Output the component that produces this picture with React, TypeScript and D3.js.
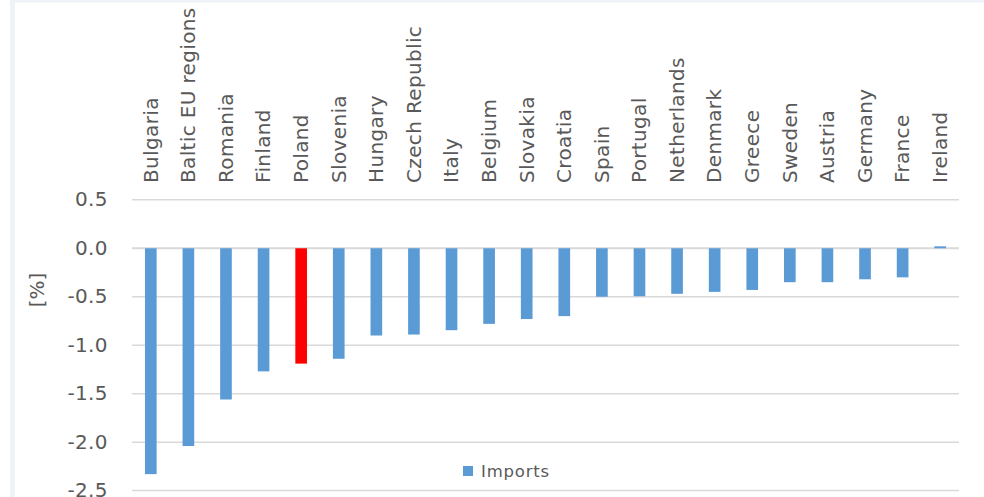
import React from "react";
import * as d3 from "d3";

// Countries ordered from largest decline to smallest
const categories: string[] = [
  "Bulgaria", "Baltic EU regions", "Romania", "Finland", "Poland", "Slovenia",
  "Hungary", "Czech Republic", "Italy", "Belgium", "Slovakia", "Croatia",
  "Spain", "Portugal", "Netherlands", "Denmark", "Greece", "Sweden",
  "Austria", "Germany", "France", "Ireland",
];

// Change in imports, in percent
const imports: number[] = [
  -2.33, -2.04, -1.56, -1.27, -1.19, -1.14,
  -0.90, -0.89, -0.845, -0.78, -0.73, -0.70,
  -0.50, -0.495, -0.47, -0.45, -0.43, -0.35,
  -0.35, -0.32, -0.30, 0.02,
];

const highlighted: string[] = ["Poland"];

const yTicks: number[] = [0.5, 0.0, -0.5, -1.0, -1.5, -2.0, -2.5];

const seriesName = "Imports";
const axisTitle = "[%]";

const WIDTH = 984;
const HEIGHT = 497;
const FONT = "'DejaVu Sans', sans-serif";
const TEXT = "#595959";
const BLUE = "#5b9bd5";
const RED = "#ff0000";
const GRID = "#d9d9d9";

// one decimal, plain hyphen for negatives
const fmt = (v: number) => d3.format(".1f")(v).replace("\u2212", "-");

export default function App() {
  const x = d3
    .scaleBand<string>()
    .domain(categories)
    .range([132, 959])
    .paddingInner(0.69)
    .paddingOuter(0.345);

  const y = d3.scaleLinear().domain([-2.5, 0.5]).range([490.6, 199.8]);

  return (
    <svg
      width={WIDTH}
      height={HEIGHT}
      style={{ position: "absolute", left: 0, top: 0, background: "#fff" }}
    >
      {/* frame */}
      <rect x={10} y={0} width={5} height={HEIGHT} fill="#eef2f9" />
      <rect x={10} y={0} width={WIDTH - 10} height={2.5} fill="#eef2f9" />

      {/* gridlines */}
      {yTicks.map((t) => (
        <line
          key={`g${t}`}
          x1={132}
          x2={959}
          y1={y(t)}
          y2={y(t)}
          stroke={GRID}
          strokeWidth={t === 0 ? 2 : 1.5}
        />
      ))}

      {/* y tick labels */}
      {yTicks.map((t) => (
        <text
          key={`t${t}`}
          x={108}
          y={y(t) + 6.5}
          textAnchor="end"
          fontFamily={FONT}
          fontSize={20}
          letterSpacing={0.4}
          fill={TEXT}
        >
          {fmt(t)}
        </text>
      ))}

      {/* axis title */}
      <text
        transform={`translate(44, ${y(-0.43)}) rotate(-90)`}
        textAnchor="middle"
        fontFamily={FONT}
        fontSize={20}
        fill={TEXT}
      >
        {axisTitle}
      </text>

      {/* bars */}
      {categories.map((c, i) => {
        const v = imports[i];
        const y0 = y(Math.max(0, v));
        const y1 = y(Math.min(0, v));
        return (
          <rect
            key={`b${c}`}
            x={x(c)!}
            y={y0}
            width={x.bandwidth()}
            height={Math.max(1, y1 - y0)}
            fill={highlighted.includes(c) ? RED : BLUE}
          />
        );
      })}

      {/* category labels */}
      {categories.map((c) => {
        const cx = (x(c) ?? 0) + x.bandwidth() / 2;
        return (
          <text
            key={`l${c}`}
            transform={`translate(${cx + 6.8}, 183) rotate(-90)`}
            textAnchor="start"
            fontFamily={FONT}
            fontSize={20}
            letterSpacing={0.35}
            fill={TEXT}
          >
            {c}
          </text>
        );
      })}

      {/* legend */}
      <g transform="translate(463, 466)">
        <rect x={0} y={0} width={10} height={10} fill={BLUE} />
        <text
          x={18}
          y={10.5}
          fontFamily={FONT}
          fontSize={16.5}
          letterSpacing={0.8}
          fill={TEXT}
        >
          {seriesName}
        </text>
      </g>
    </svg>
  );
}
